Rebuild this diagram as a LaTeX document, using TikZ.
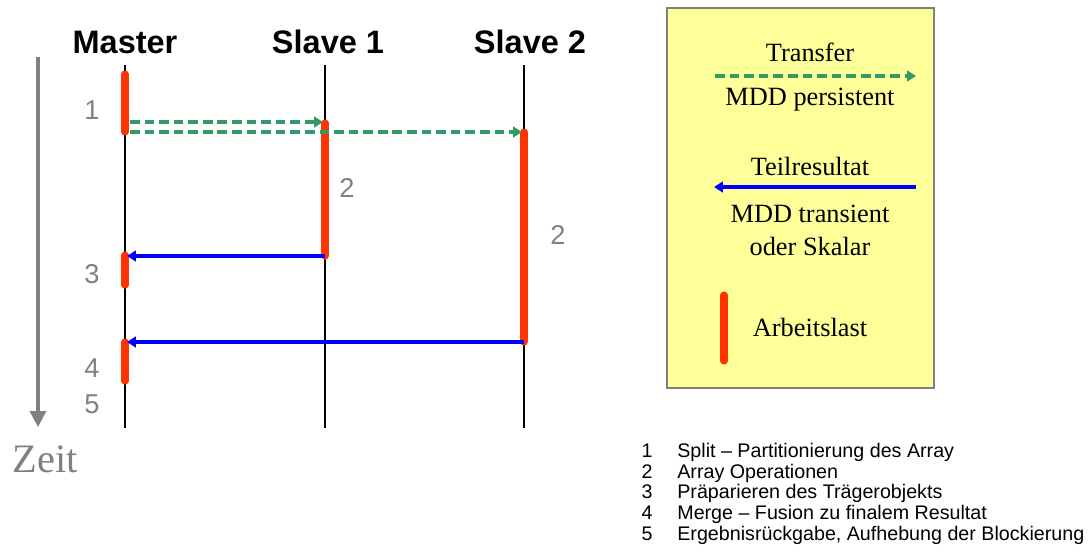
\documentclass[tikz,border=0pt]{standalone}
\usepackage{fontspec}
\setmainfont{Liberation Serif}
\setsansfont{Liberation Sans}
\usetikzlibrary{arrows.meta}
\definecolor{load}{RGB}{255,51,0}
\definecolor{transfer}{RGB}{51,153,102}
\definecolor{legendbg}{RGB}{255,255,153}
\def\lifetop{65}
\def\lifebot{428}

\begin{document}
\begin{tikzpicture}[x=0.02cm,y=-0.02cm]
    \tikzstyle{lifeline}=[draw=black,line width=1.5pt]
    \tikzstyle{load bar}=[draw=load,line width=4pt,line cap=round]
    \tikzstyle{transfer arrow}=[draw=transfer,line width=1.9pt,dash pattern=on 5.5pt off 2.8pt,-{Triangle[length=5pt,width=6pt]}]
    \tikzstyle{result arrow}=[draw=blue,line width=1.9pt,-{Triangle[length=5pt,width=6pt]}]
    \tikzstyle{head}=[font=\sffamily\bfseries\fontsize{18.5}{20}\selectfont]
    \tikzstyle{step no}=[text=gray,font=\sffamily\fontsize{15.5}{17}\selectfont]
    \tikzstyle{legend text}=[font=\fontsize{15}{17}\selectfont]
    \tikzstyle{note}=[inner sep=0pt,anchor=base,font=\sffamily\fontsize{11.2}{12}\selectfont]

    \useasboundingbox (0,0) rectangle (1092,556);

    % Time axis
    \coordinate (T-top) at (38,57);
    \coordinate (T-bot) at (38,427);
    \draw[gray,line width=2pt,-{Triangle[length=9pt,width=9pt]}] (T-top) -- (T-bot);
    \node[text=gray,font=\fontsize{23}{25}\selectfont] (zeit) at (45,459) {Zeit};

    % Draw the lifelines with their heads
    \foreach \name/\x/\hx/\label in {M/125/125/Master, S1/325/328/Slave 1, S2/524/530/Slave 2} {
        \node[head] (\name-head) at (\hx,42) {\label};
        \coordinate (\name-top) at (\x,\lifetop);
        \coordinate (\name-bot) at (\x,\lifebot);
        \draw[lifeline] (\name-top) -- (\name-bot);
    }

    % Work load on each lifeline
    \foreach \name/\x/\from/\to in {M1/125/74/132, M3/125/255/285, M4/125/342/381,
                                    S1w/325/123/256, S2w/524/132/342} {
        \coordinate (\name-s) at (\x,\from);
        \coordinate (\name-e) at (\x,\to);
        \draw[load bar] (\name-s) -- (\name-e);
    }

    % Transfer from master to slaves
    \coordinate (send-1) at (130,122);
    \coordinate (send-2) at (130,132);
    \coordinate (recv-1) at (323,122);
    \coordinate (recv-2) at (522,132);
    \draw[transfer arrow] (send-1) -- (recv-1);
    \draw[transfer arrow] (send-2) -- (recv-2);

    % Partial results back to master
    \coordinate (back-1) at (127,256);
    \coordinate (back-2) at (127,342);
    \draw[result arrow] (S1w-e) -- (back-1);
    \draw[result arrow] (S2w-e) -- (back-2);

    % Step numbers
    \foreach \n/\x/\y [count=\i] in {1/92/110, 2/347/188, 2/558/235, 3/92/274, 4/92/368, 5/92/404}
        \node[step no] (no-\i) at (\x,\y) {\n};

    % Legend
    \node[draw=gray,line width=1.1pt,fill=legendbg,minimum width=5.34cm,minimum height=7.6cm] (legend) at (800.5,198) {};
    \node[legend text] (l-transfer) at (810,52) {Transfer};
    \coordinate (l-t-a) at (715,76);
    \coordinate (l-t-b) at (916,76);
    \draw[transfer arrow] (l-t-a) -- (l-t-b);
    \node[legend text] (l-persist) at (810,100) {MDD persistent};
    \node[legend text] (l-result) at (810,166) {Teilresultat};
    \coordinate (l-r-a) at (916,187);
    \coordinate (l-r-b) at (714,187);
    \draw[result arrow] (l-r-a) -- (l-r-b);
    \node[legend text] (l-transient) at (810,214) {MDD transient};
    \node[legend text] (l-scalar) at (810,246) {oder Skalar};
    \coordinate (l-w-a) at (724,295);
    \coordinate (l-w-b) at (724,361);
    \draw[load bar] (l-w-a) -- (l-w-b);
    \node[legend text] (l-load) at (810,327) {Arbeitslast};

    % Notes on the steps
    \foreach \n/\txt [count=\i] in {1/{Split – Partitionierung des Array},
                                    2/{Array Operationen},
                                    3/{Präparieren des Trägerobjekts},
                                    4/{Merge – Fusion zu finalem Resultat},
                                    5/{Ergebnisrückgabe, Aufhebung der Blockierung}} {
        \node[note] (n-\i) at (647,437+20.6*\i) {\n};
        \node[note,anchor=base west] (t-\i) at (677,437+20.6*\i) {\txt};
    }
\end{tikzpicture}
\end{document}
